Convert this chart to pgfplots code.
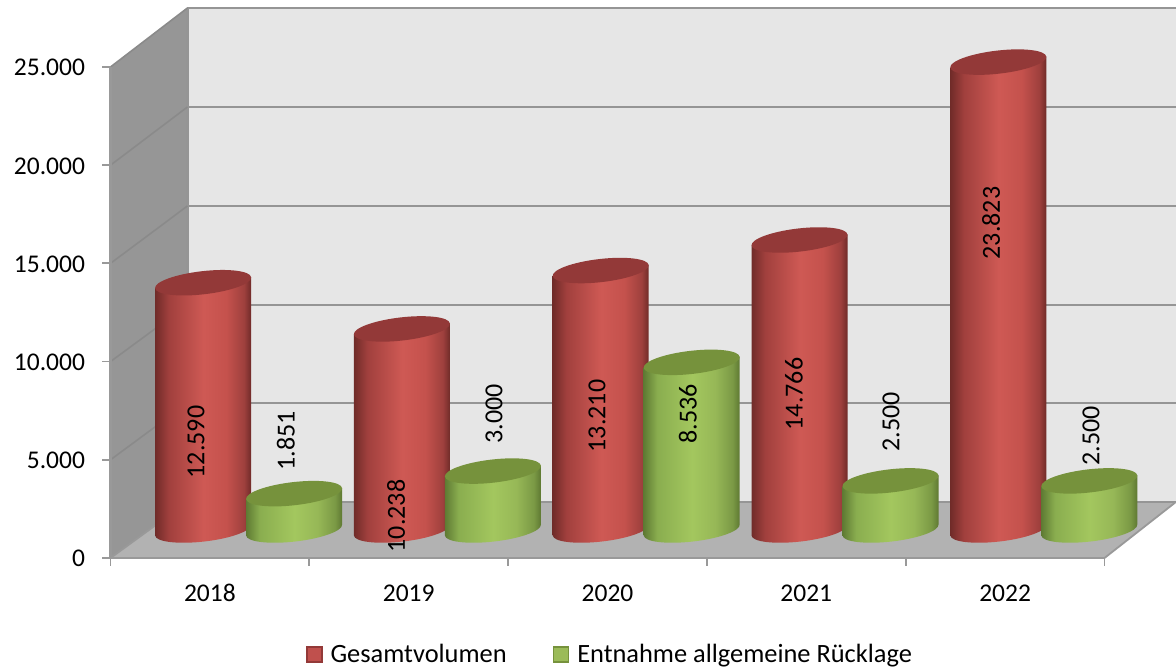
\documentclass[border=0pt]{standalone}
\usepackage{fontspec}
\setmainfont{Carlito}
\usepackage{pgfplots}
\pgfplotsset{compat=1.18}

\definecolor{wallback}{HTML}{E6E6E6}
\definecolor{wallleft}{HTML}{969696}
\definecolor{wallfloor}{HTML}{B2B2B2}
\definecolor{gridback}{HTML}{959595}
\definecolor{gridleft}{HTML}{8A8A8A}
\definecolor{axisgray}{HTML}{999999}
\definecolor{redtop}{HTML}{933938}
\definecolor{greentop}{HTML}{76923C}
\definecolor{redleg}{HTML}{C0504D}
\definecolor{greenleg}{HTML}{9BBB59}

\pgfdeclarehorizontalshading{cylred}{100bp}{
  rgb(0bp)=(0.44,0.17,0.16);
  rgb(25bp)=(0.44,0.17,0.16);
  rgb(32bp)=(0.63,0.25,0.24);
  rgb(50bp)=(0.81,0.35,0.33);
  rgb(62bp)=(0.77,0.32,0.30);
  rgb(71bp)=(0.62,0.25,0.24);
  rgb(75bp)=(0.42,0.16,0.15);
  rgb(100bp)=(0.42,0.16,0.15)}
\pgfdeclarehorizontalshading{cylgreen}{100bp}{
  rgb(0bp)=(0.37,0.48,0.20);
  rgb(25bp)=(0.37,0.48,0.20);
  rgb(32bp)=(0.54,0.68,0.31);
  rgb(50bp)=(0.64,0.78,0.37);
  rgb(62bp)=(0.59,0.72,0.34);
  rgb(71bp)=(0.48,0.60,0.27);
  rgb(75bp)=(0.36,0.46,0.19);
  rgb(100bp)=(0.36,0.46,0.19)}

\pgfdeclareplotmark{nothing}{}

% cylinder with its top centre at the plot point, moved by #1 px to the right and 28 px up
\newcommand\drawcyl[3]{%
  \pgfmathsetmacro\cylh{\vy*19.64}%
  \begin{pgfscope}%
    \pgftransformshift{\pgfpoint{#1pt}{28pt}}%
    \shade[draw=none, shading=#2]
      (-48pt,-5.5pt) -- (48pt,5.5pt) -- (48pt,5.5pt-\cylh pt)
      .. controls (48.72pt,-0.85pt-\cylh pt) and (27.8pt,-8.46pt-\cylh pt) .. (1.3pt,-11.5pt-\cylh pt)
      .. controls (-25.2pt,-14.54pt-\cylh pt) and (-47.28pt,-11.85pt-\cylh pt) .. (-48pt,-5.5pt-\cylh pt)
      -- cycle;
    \pgfpathellipse{\pgfqpoint{0pt}{0pt}}{\pgfqpoint{48pt}{5.5pt}}{\pgfqpoint{-1.3pt}{11.5pt}}%
    \pgfsetfillcolor{#3}%
    \pgfusepath{fill}%
  \end{pgfscope}%
}

\pgfplotsset{
  cyl/.style n args={3}{
    scatter, only marks, forget plot,
    mark=nothing,
    visualization depends on={rawy/1000 \as \vy},
    scatter/@pre marker code/.code={\drawcyl{#1}{#2}{#3}},
    scatter/@post marker code/.code={},
  },
}

\begin{document}
\begin{tikzpicture}
\useasboundingbox (-110.5pt,-110pt) rectangle (1065.5pt,558pt);
\begin{axis}[
  at={(0pt,0pt)},
  anchor=south west,
  scale only axis,
  width=994pt,
  height=491pt,
  xmin=-0.5, xmax=4.5,
  ymin=0, ymax=25000,
  clip=false,
  axis on top,
  axis x line*=bottom,
  axis y line*=left,
  axis line style={draw=axisgray, line width=2.4pt, -},
  tick style={draw=axisgray, line width=1.8pt},
  tick align=outside,
  major tick length=8pt,
  xtick={-0.5,0.5,1.5,2.5,3.5,4.5},
  xticklabels={},
  extra x ticks={0,1,2,3,4},
  extra x tick labels={2018,2019,2020,2021,2022},
  extra x tick style={major tick length=0pt, tick style={draw=none}},
  ytick={0,5000,10000,15000,20000,25000},
  scaled y ticks=false,
  /pgf/number format/.cd, 1000 sep={.}, assume math mode=true,
  /pgfplots/.cd,
  tick label style={font=\fontsize{25.5}{30}\selectfont, black},
  xticklabel style={yshift=-23pt},
  yticklabel style={xshift=-14pt, yshift=-0.8pt},
  legend style={
    at={(0.5025,-0.1965)}, anchor=center, draw=none, fill=none,
    legend columns=2, inner ysep=0pt,
    font=\fontsize{26.4}{30}\selectfont,
    /tikz/every even column/.append style={column sep=44pt},
    /tikz/every odd column/.append style={column sep=6pt},
  },
  after end axis/.code={
    \begin{scope}[every node/.style={rotate=90, font=\fontsize{26}{30}\selectfont, inner sep=0pt}]
    \node at (axis cs:-0.070,5907) {12.590};
    \node at (axis cs:0.382,5958) {1.851};
    \node at (axis cs:0.936,2139) {10.238};
    \node at (axis cs:1.429,7333) {3.000};
    \node at (axis cs:1.947,7231) {13.210};
    \node at (axis cs:2.404,7333) {8.536};
    \node at (axis cs:2.938,8351) {14.766};
    \node at (axis cs:3.426,6926) {2.500};
    \node at (axis cs:3.929,17058) {23.823};
    \node at (axis cs:4.432,6213) {2.500};
    \end{scope}
  },
]
% walls and floor
\addplot[fill=wallback, draw=none, forget plot] coordinates {(-0.113,2851) (4.859,2851) (4.859,28004) (-0.113,28004)} -- cycle;
\addplot[fill=wallleft, draw=none, forget plot] coordinates {(-0.5,0) (-0.113,2851) (-0.113,28004) (-0.5,25000)} -- cycle;
\addplot[fill=wallfloor, draw=none, forget plot] coordinates {(-0.5,0) (4.5,0) (4.859,2851) (-0.113,2851)} -- cycle;
% grid on the back wall
\addplot[gridback, line width=2.6pt, forget plot] coordinates {(-0.113,28004) (4.859,28004)};
\addplot[gridback, line width=2.6pt, forget plot] coordinates {(-0.113,22963) (4.859,22963)};
\addplot[gridback, line width=2.6pt, forget plot] coordinates {(-0.113,17923) (4.859,17923)};
\addplot[gridback, line width=2.6pt, forget plot] coordinates {(-0.113,12882) (4.859,12882)};
\addplot[gridback, line width=2.6pt, forget plot] coordinates {(-0.113,7892) (4.859,7892)};
\addplot[gridback, line width=2.6pt, forget plot] coordinates {(-0.113,2851) (4.859,2851)};
\addplot[gridback, line width=2.6pt, forget plot] coordinates {(-0.113,2851) (-0.113,28004)};
% grid on the left wall and the floor edges
\addplot[gridleft, line width=1.6pt, forget plot] coordinates {(-0.5,5000) (-0.113,7892)};
\addplot[gridleft, line width=1.6pt, forget plot] coordinates {(-0.5,10000) (-0.113,12882)};
\addplot[gridleft, line width=1.6pt, forget plot] coordinates {(-0.5,15000) (-0.113,17923)};
\addplot[gridleft, line width=1.6pt, forget plot] coordinates {(-0.5,20000) (-0.113,22963)};
\addplot[gridleft, line width=1.6pt, forget plot] coordinates {(-0.5,25000) (-0.113,28004)};
\addplot[axisgray, line width=1.8pt, forget plot] coordinates {(-0.5,0) (-0.113,2851)};
\addplot[axisgray, line width=1.8pt, forget plot] coordinates {(4.5,0) (4.859,2851)};
% Gesamtvolumen
\addplot[cyl={-6.8}{cylred}{redtop}] coordinates {(0,12590) (1,10238) (2,13210) (3,14766) (4,23823)};
% Entnahme allgemeine Ruecklage
\addplot[cyl={84.2}{cylgreen}{greentop}] coordinates {(0,1851) (1,3000) (2,8536) (3,2500) (4,2500)};
\addlegendimage{legend image code/.code={\draw[fill=redleg, draw=redtop, line width=1.6pt] (0pt,-7.5pt) rectangle (15pt,7.5pt);}}
\addlegendentry{Gesamtvolumen}
\addlegendimage{legend image code/.code={\draw[fill=greenleg, draw=greentop, line width=1.6pt] (0pt,-7.5pt) rectangle (15pt,7.5pt);}}
\addlegendentry{Entnahme allgemeine Rücklage}
\end{axis}
\end{tikzpicture}
\end{document}
